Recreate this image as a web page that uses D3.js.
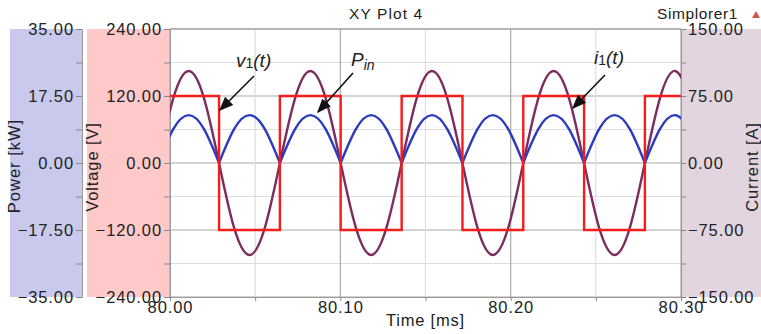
<!DOCTYPE html>
<html>
<head>
<meta charset="utf-8">
<script src="https://cdnjs.cloudflare.com/ajax/libs/d3/7.8.5/d3.min.js"></script>
<style>
  body { margin: 0; background: #fff; }
  text { font-family: "Liberation Sans", Arial, sans-serif; fill: #222; }
</style>
</head>
<body>
<svg width="761" height="334"></svg>
<script>
// Data
var timeMs = [79.9931, 80.0020, 80.0110, 80.0199, 80.0288, 80.0377, 80.0467, 80.0556,
  80.0645, 80.0735, 80.0824, 80.0913, 80.1002, 80.1092, 80.1181, 80.1270,
  80.1360, 80.1449, 80.1538, 80.1627, 80.1717, 80.1806, 80.1895, 80.1985,
  80.2074, 80.2163, 80.2252, 80.2342, 80.2431, 80.2520, 80.2610, 80.2699,
  80.2788, 80.2877, 80.2967, 80.3056];
var currentA = [0, 73, 103, 73, 0, -73, -103, -73,
  0, 73, 103, 73, 0, -73, -103, -73,
  0, 73, 103, 73, 0, -73, -103, -73,
  0, 73, 103, 73, 0, -73, -103, -73,
  0, 73, 103, 73];
var powerKW = [0, 8.9, 12.5, 8.9, 0, 8.9, 12.5, 8.9,
  0, 8.9, 12.5, 8.9, 0, 8.9, 12.5, 8.9,
  0, 8.9, 12.5, 8.9, 0, 8.9, 12.5, 8.9,
  0, 8.9, 12.5, 8.9, 0, 8.9, 12.5, 8.9,
  0, 8.9, 12.5, 8.9];
var voltTimes = [80.00, 80.0288, 80.0645, 80.1002, 80.1360, 80.1717, 80.2074, 80.2431, 80.2788, 80.30];
var voltLevels = [120, -120, 120, -120, 120, -120, 120, -120, 120, 120];

var xTicks = [80.00, 80.05, 80.10, 80.15, 80.20, 80.25, 80.30];
var xLabels = [80.00, 80.10, 80.20, 80.30];
var powerTicks = [-35, -26.25, -17.5, -8.75, 0, 8.75, 17.5, 26.25, 35];
var voltTicks = [-240, -180, -120, -60, 0, 60, 120, 180, 240];
var currTicks = [-150, -112.5, -75, -37.5, 0, 37.5, 75, 112.5, 150];

var svg = d3.select("svg");
var pLeft = 170, pRight = 681, pTop = 29, pBottom = 297;

// Scales
var x = d3.scaleLinear().domain([80.0, 80.3]).range([pLeft, pRight]);
var yV = d3.scaleLinear().domain([-240, 240]).range([pBottom, pTop]);
var yP = d3.scaleLinear().domain([-35, 35]).range([pBottom, pTop]);
var yI = d3.scaleLinear().domain([-150, 150]).range([pBottom, pTop]);
var fmt = d3.format(".2f");

// Coloured axis bands
svg.append("rect").attr("x", 10).attr("y", pTop).attr("width", 72).attr("height", pBottom - pTop).attr("fill", "#c9c9ee");
svg.append("rect").attr("x", 87).attr("y", pTop).attr("width", pLeft - 87).attr("height", pBottom - pTop).attr("fill", "#ffc9c9");
svg.append("rect").attr("x", pRight).attr("y", pTop).attr("width", 761 - pRight).attr("height", pBottom - pTop).attr("fill", "#e3d5df");

// Grid
var grid = svg.append("g");
voltTicks.forEach(function(v) {
  grid.append("line")
    .attr("x1", pLeft).attr("x2", pRight).attr("y1", yV(v)).attr("y2", yV(v))
    .attr("stroke", v % 120 == 0 ? "#a9a9a9" : "#dedede").attr("stroke-width", 1.2);
});
xTicks.forEach(function(t, i) {
  grid.append("line")
    .attr("x1", x(t)).attr("x2", x(t)).attr("y1", pTop).attr("y2", pBottom)
    .attr("stroke", i % 2 == 0 ? "#a9a9a9" : "#dedede").attr("stroke-width", 1.2);
});

// Axes
function styleAxis(g) {
  g.select(".domain").attr("stroke", "#999");
  g.selectAll(".tick line").attr("stroke", "#888");
  g.selectAll("text").attr("font-size", 16.5).attr("letter-spacing", "0.9px").attr("fill", "#222");
}
function majorOnly(step) {
  return function(d) { return Math.abs(d / step - Math.round(d / step)) < 1e-6 ? fmt(d) : ""; };
}

svg.append("g")
  .attr("transform", "translate(82,0)")
  .call(d3.axisLeft(yP).tickValues(powerTicks).tickSize(6).tickPadding(2).tickFormat(majorOnly(17.5)))
  .call(styleAxis);

svg.append("g")
  .attr("transform", "translate(" + pLeft + ",0)")
  .call(d3.axisLeft(yV).tickValues(voltTicks).tickSize(6).tickPadding(2).tickFormat(majorOnly(120)))
  .call(styleAxis);

svg.append("g")
  .attr("transform", "translate(" + pRight + ",0)")
  .call(d3.axisRight(yI).tickValues(currTicks).tickSize(5).tickPadding(2).tickFormat(majorOnly(75)))
  .call(styleAxis);

svg.append("g")
  .attr("transform", "translate(0," + pBottom + ")")
  .call(d3.axisBottom(x).tickValues(xTicks).tickSize(4).tickPadding(0)
    .tickFormat(function(d) { return xLabels.some(function(l) { return Math.abs(l - d) < 1e-6; }) ? fmt(d) : ""; }))
  .call(styleAxis);

// top border
svg.append("line").attr("x1", pLeft).attr("x2", pRight).attr("y1", pTop).attr("y2", pTop).attr("stroke", "#999");

// Curves
svg.append("clipPath").attr("id", "clip")
  .append("rect").attr("x", pLeft).attr("y", pTop).attr("width", pRight - pLeft).attr("height", pBottom - pTop);
var plot = svg.append("g").attr("clip-path", "url(#clip)");

var curr = timeMs.map(function(t, i) { return [t, currentA[i]]; });
plot.append("path")
  .datum(curr)
  .attr("fill", "none").attr("stroke", "#7c2c5e").attr("stroke-width", 2.4)
  .attr("d", d3.line().x(function(d) { return x(d[0]); }).y(function(d) { return yI(d[1]); }).curve(d3.curveNatural));

// power humps, split at the zero points
var humps = [], cur = [];
timeMs.forEach(function(t, i) {
  cur.push([t, powerKW[i]]);
  if (powerKW[i] == 0 && cur.length > 1) { humps.push(cur); cur = [[t, 0]]; }
});
if (cur.length > 1) humps.push(cur);
plot.selectAll(".hump")
  .data(humps)
  .enter()
  .append("path")
    .attr("fill", "none").attr("stroke", "#2b3bbf").attr("stroke-width", 2.4)
    .attr("d", d3.line().x(function(d) { return x(d[0]); }).y(function(d) { return yP(d[1]); }).curve(d3.curveNatural));

var volt = voltTimes.map(function(t, i) { return [t, voltLevels[i]]; });
plot.append("path")
  .datum(volt)
  .attr("fill", "none").attr("stroke", "#f41c1c").attr("stroke-width", 2.4)
  .attr("d", d3.line().x(function(d) { return x(d[0]); }).y(function(d) { return yV(d[1]); }).curve(d3.curveStepAfter));

// Titles
svg.append("text").attr("x", 349).attr("y", 19).attr("font-size", 15.5).attr("letter-spacing", "1.1px").text("XY Plot 4");
svg.append("text").attr("x", 657).attr("y", 19).attr("font-size", 15.5).attr("letter-spacing", "0.6px").text("Simplorer1");
svg.append("path").attr("d", "M752,18 L756,11 L760,18 Z").attr("fill", "#d9534f");

svg.append("text").attr("x", (pLeft + pRight) / 2).attr("y", 326).attr("text-anchor", "middle")
  .attr("font-size", 16.5).attr("letter-spacing", "0.8px").text("Time [ms]");
svg.append("text").attr("transform", "translate(20,166) rotate(-90)").attr("text-anchor", "middle")
  .attr("font-size", 16.5).attr("letter-spacing", "1px").text("Power [kW]");
svg.append("text").attr("transform", "translate(98,167) rotate(-90)").attr("text-anchor", "middle")
  .attr("font-size", 16.5).attr("letter-spacing", "0.9px").text("Voltage [V]");
svg.append("text").attr("transform", "translate(758,167) rotate(-90)").attr("text-anchor", "middle")
  .attr("font-size", 16.5).attr("letter-spacing", "0.9px").text("Current [A]");

// Annotations
svg.append("defs").append("marker")
  .attr("id", "arrow").attr("viewBox", "0 0 10 10").attr("refX", 9).attr("refY", 5)
  .attr("markerWidth", 9).attr("markerHeight", 9).attr("orient", "auto")
  .append("path").attr("d", "M0,1 L10,5 L0,9 Z").attr("fill", "#111");

var arrows = [[254, 76, 220, 110], [353, 73, 318, 112], [605, 75, 573, 108]];
arrows.forEach(function(a) {
  svg.append("line").attr("x1", a[0]).attr("y1", a[1]).attr("x2", a[2]).attr("y2", a[3])
    .attr("stroke", "#111").attr("stroke-width", 1.6).attr("marker-end", "url(#arrow)");
});

var v1 = svg.append("text").attr("x", 236).attr("y", 67).attr("font-size", 19).attr("fill", "#222");
v1.append("tspan").attr("font-style", "italic").text("v");
v1.append("tspan").attr("font-size", 14).attr("dy", 1).text("1");
v1.append("tspan").attr("font-style", "italic").attr("dy", -1).text("(t)");

var pin = svg.append("text").attr("x", 351).attr("y", 66).attr("font-size", 19).attr("fill", "#222");
pin.append("tspan").attr("font-style", "italic").text("P");
pin.append("tspan").attr("font-style", "italic").attr("font-size", 14).attr("dy", 4).text("in");

var i1 = svg.append("text").attr("x", 594).attr("y", 64).attr("font-size", 19).attr("fill", "#222");
i1.append("tspan").attr("font-style", "italic").text("i");
i1.append("tspan").attr("font-size", 14).attr("dy", 1).text("1");
i1.append("tspan").attr("font-style", "italic").attr("dy", -1).text("(t)");
</script>
</body>
</html>
